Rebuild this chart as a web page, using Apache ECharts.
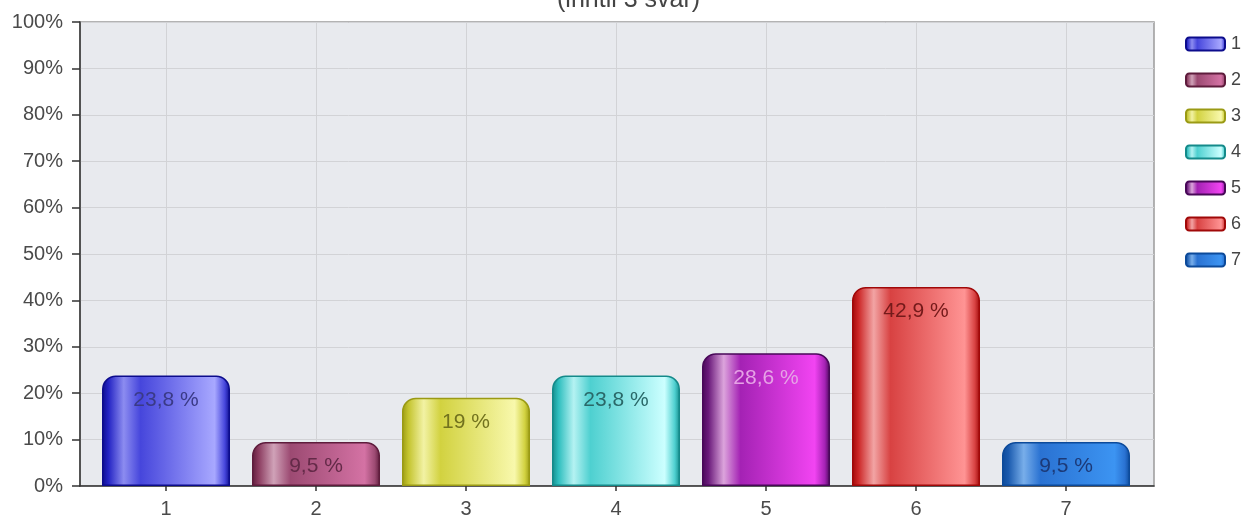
<!DOCTYPE html>
<html>
<head>
<meta charset="utf-8">
<script src="https://cdn.jsdelivr.net/npm/echarts@6/dist/echarts.min.js"></script>
<style>
html,body{margin:0;padding:0;background:#fff;}
#chart{width:1245px;height:522px;}
</style>
</head>
<body>
<div id="chart"></div>
<script>
const categories = ['1', '2', '3', '4', '5', '6', '7'];
const values = [23.8, 9.5, 19, 23.8, 28.6, 42.9, 9.5];
const yTicks = [0, 10, 20, 30, 40, 50, 60, 70, 80, 90, 100];
const subtitle = '(inntil 3 svar)';

// [edge, dark, highlight, base, light, labelColor]
const palettes = [
  ['#0c0c8c', '#2424c4', '#8c8cf0', '#4646dc', '#a8a8ff', '#3a3a86'],
  ['#5e1c3c', '#8a3a5e', '#d0a2b8', '#9c4a72', '#d472a4', '#642a48'],
  ['#9a9a14', '#c4c42e', '#f2f2a4', '#d2d240', '#f8f8ac', '#72721e'],
  ['#148a8a', '#2ebebe', '#b4f2f2', '#4ed0d0', '#ccffff', '#2a6868'],
  ['#480858', '#6a1a7a', '#dca4dc', '#a422b4', '#f244f2', '#e6a2e6'],
  ['#a00808', '#cc2626', '#f2a4a4', '#d84242', '#ff9494', '#741a1a'],
  ['#0c4a9a', '#1a5aae', '#78aeea', '#2a72d2', '#3c94f2', '#1c3a78']
];

function grad(p) {
  return new echarts.graphic.LinearGradient(0, 0, 1, 0, [
    {offset: 0, color: p[0]},
    {offset: 0.05, color: p[1]},
    {offset: 0.17, color: p[2]},
    {offset: 0.3, color: p[3]},
    {offset: 0.88, color: p[4]},
    {offset: 0.96, color: p[3]},
    {offset: 1, color: p[0]}
  ]);
}

const chart = echarts.init(document.getElementById('chart'), null, {renderer: 'canvas'});
const font = 'Liberation Sans, Arial, sans-serif';

const series = categories.map((c, i) => ({
  name: c,
  type: 'bar',
  xAxisIndex: 1,
  yAxisIndex: 1,
  barWidth: 128,
  barGap: '-100%',
  data: [[c, values[i]]],
  itemStyle: {
    color: grad(palettes[i]),
    borderColor: palettes[i][0],
    borderWidth: 1.5,
    borderRadius: [13, 13, 0, 0]
  },
  label: {
    show: true,
    position: 'insideTop',
    distance: 14,
    fontFamily: font,
    fontSize: 21,
    color: palettes[i][5],
    formatter: p => String(p.value[1]).replace('.', ',') + ' %'
  }
}));

chart.setOption({
  animation: false,
  backgroundColor: '#ffffff',
  graphic: [{
    type: 'text',
    left: 557,
    top: -12,
    style: {text: subtitle, font: '25px ' + font, fill: '#444'}
  }],
  legend: {
    orient: 'vertical',
    left: 1185,
    top: 35,
    padding: 0,
    itemWidth: 39,
    itemHeight: 13,
    itemGap: 18,
    icon: 'roundRect',
    textStyle: {fontFamily: font, fontSize: 18, color: '#444', lineHeight: 18, padding: [0, 0, 0, 1]},
    data: categories
  },
  grid: [
    {left: 80, right: 91, top: 22, bottom: 36, show: true, backgroundColor: '#e8eaee', borderColor: '#9a9a9a', borderWidth: 1.5},
    {left: 166, right: 179, top: 22, bottom: 36}
  ],
  xAxis: [
    {
      gridIndex: 0, type: 'value', min: 0, max: 1,
      axisLine: {show: true, onZero: false, lineStyle: {color: '#333', width: 1.5}},
      axisTick: {show: false}, axisLabel: {show: false}, splitLine: {show: false}
    },
    {
      gridIndex: 1, type: 'category', data: categories, boundaryGap: false,
      axisLine: {show: false},
      axisTick: {show: true, length: 5, lineStyle: {color: '#333', width: 1.5}},
      axisLabel: {fontFamily: font, fontSize: 20, color: '#4a4a4a', margin: 13},
      splitLine: {show: true, lineStyle: {color: '#d2d3d6', width: 1}}
    }
  ],
  yAxis: [
    {
      gridIndex: 0, type: 'value', min: 0, max: 100, interval: 10,
      axisLine: {show: true, lineStyle: {color: '#333', width: 1.5}},
      axisTick: {show: true, length: 8, lineStyle: {color: '#333', width: 1.5}},
      axisLabel: {fontFamily: font, fontSize: 20, color: '#4a4a4a', margin: 17,
        customValues: yTicks, formatter: v => v + '%'},
      splitLine: {show: true, lineStyle: {color: '#d2d3d6', width: 1}}
    },
    {
      gridIndex: 1, type: 'value', min: 0, max: 100, interval: 10,
      show: false, splitLine: {show: false}
    }
  ],
  series: series
});
</script>
</body>
</html>
